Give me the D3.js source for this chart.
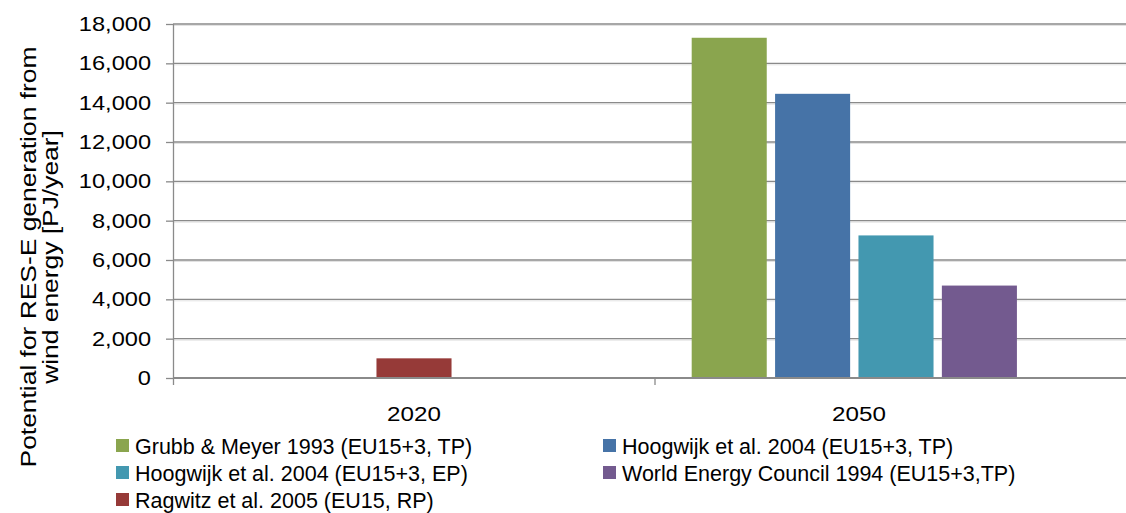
<!DOCTYPE html>
<html>
<head>
<meta charset="utf-8">
<script src="https://cdn.jsdelivr.net/npm/d3@7"></script>
<style>
  body { margin: 0; background: #fff; }
  svg { display: block; font-family: "Liberation Sans", Arial, sans-serif; }
</style>
</head>
<body>
<div id="container"></div>
<script>
/* DATA */
const years = ["2020", "2050"];
const seriesNames = [
  "Grubb & Meyer 1993 (EU15+3, TP)",
  "Hoogwijk et al. 2004 (EU15+3, TP)",
  "Hoogwijk et al. 2004 (EU15+3, EP)",
  "World Energy Council 1994 (EU15+3,TP)",
  "Ragwitz et al. 2005 (EU15, RP)"
];
const seriesColors = ["#8aa54e", "#4673a7", "#4398b0", "#735a8f", "#963a38"];
const values2020 = [null, null, null, null, 1000];
const values2050 = [17300, 14450, 7250, 4700, null];
const yTicks = [0, 2000, 4000, 6000, 8000, 10000, 12000, 14000, 16000, 18000];

/* CONSTANTS */
const width = 1126;
const height = 513;
const margin = {top: 24, bottom: 135, left: 173, right: -11};
const grid = "#8a8a8a";

const svg = d3.select("#container")
  .append("svg")
    .attr("width", width)
    .attr("height", height);

/* SCALES */
const x0 = d3.scaleBand()
  .domain(years)
  .range([margin.left, width - margin.right]);

const x1 = d3.scaleBand()
  .domain(d3.range(seriesNames.length))
  .range([0, x0.bandwidth()])
  .paddingInner(0.1)
  .paddingOuter(0.44);

const y = d3.scaleLinear()
  .domain([0, 18000])
  .range([height - margin.bottom, margin.top]);

// one row per bar; a lone bar sits in the middle slot like Excel drew it
const valuesByYear = {"2020": values2020, "2050": values2050};
const rows = [];
years.forEach(yr => {
  const present = valuesByYear[yr]
    .map((v, i) => ({v, i}))
    .filter(d => d.v != null);
  present.forEach(d => rows.push({
    year: yr,
    series: d.i,
    value: d.v,
    slot: present.length === 1 ? Math.floor(seriesNames.length / 2) : d.i
  }));
});

/* GRIDLINES */
svg.append("g")
  .selectAll("line")
  .data(yTicks.slice(1))
  .join("line")
    .attr("x1", margin.left)
    .attr("x2", width)
    .attr("y1", d => y(d) + 1.5)
    .attr("y2", d => y(d) + 1.5)
    .attr("stroke", "#e2e2e2")
    .attr("stroke-width", 1);

svg.append("g")
  .selectAll("line")
  .data(yTicks.slice(1))
  .join("line")
    .attr("x1", margin.left)
    .attr("x2", width)
    .attr("y1", d => y(d))
    .attr("y2", d => y(d))
    .attr("stroke", grid)
    .attr("stroke-width", 1.3);

/* BARS */
svg.append("g")
  .selectAll("rect")
  .data(rows)
  .join("rect")
    .attr("x", d => x0(d.year) + x1(d.slot))
    .attr("y", d => y(d.value))
    .attr("width", x1.bandwidth())
    .attr("height", d => y(0) - y(d.value))
    .attr("fill", d => seriesColors[d.series]);

/* Y AXIS */
const yAxis = svg.append("g")
  .attr("transform", `translate(${margin.left},0)`)
  .call(d3.axisLeft(y)
    .tickValues(yTicks)
    .tickFormat(d3.format(","))
    .tickSize(7)
    .tickSizeOuter(0));
yAxis.select(".domain").attr("stroke", grid).attr("stroke-width", 1.3)
  .attr("d", `M0.5,${y(18000)}V${y(0) + 7}`);
yAxis.selectAll(".tick line").attr("stroke", grid).attr("stroke-width", 1.3);
yAxis.selectAll(".tick text")
  .attr("x", null)
  .attr("transform", "translate(-22,0) scale(1.18,1)")
  .attr("fill", "#000")
  .style("font-size", "20px")
  .style("font-family", "'Liberation Sans', Arial, sans-serif");

/* X AXIS */
svg.append("line")
  .attr("x1", margin.left)
  .attr("x2", width)
  .attr("y1", y(0))
  .attr("y2", y(0))
  .attr("stroke", grid)
  .attr("stroke-width", 2);

svg.append("g")
  .selectAll("line")
  .data(years.slice(1))
  .join("line")
    .attr("x1", d => x0(d))
    .attr("x2", d => x0(d))
    .attr("y1", y(0))
    .attr("y2", y(0) + 7)
    .attr("stroke", grid)
    .attr("stroke-width", 1.3);

// the 2050 label sits left of its band centre in the original
const labelShift = [0, -37];
svg.append("g")
  .selectAll("text")
  .data(years)
  .join("text")
    .attr("transform", (d, i) =>
      `translate(${x0(d) + x0.bandwidth() / 2 + labelShift[i]},${y(0) + 43}) scale(1.18,1)`)
    .attr("text-anchor", "middle")
    .style("font-size", "20.5px")
    .text(d => d);

/* Y TITLE */
const title = svg.append("text")
  .attr("transform", "translate(36,257) rotate(-90) scale(1.2,1)")
  .attr("text-anchor", "middle")
  .style("font-size", "22px");
title.append("tspan").attr("x", 0).attr("y", 0).text("Potential for RES-E generation from");
title.append("tspan").attr("x", 0).attr("y", 22).text("wind energy [PJ/year]");

/* LEGEND */
const legend = svg.append("g")
  .selectAll("g")
  .data(seriesNames)
  .join("g")
    .attr("transform", (d, i) => `translate(${i % 2 === 0 ? 116 : 603},${446 + Math.floor(i / 2) * 27})`);

legend.append("rect")
  .attr("x", 0)
  .attr("y", -7)
  .attr("width", 13)
  .attr("height", 13)
  .attr("fill", (d, i) => seriesColors[i]);

legend.append("text")
  .attr("x", 19)
  .attr("dy", "0.36em")
  .style("font-size", "21.5px")
  .text(d => d);
</script>
</body>
</html>
